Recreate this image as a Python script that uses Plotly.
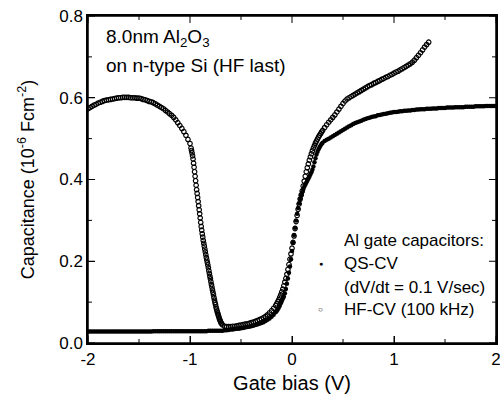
import numpy as np
import plotly.graph_objects as go

# ---------------- data ----------------
# HF-CV (100 kHz), open circles; bias grid segments (start, stop) with values
hf_seg1_range = (-2.00, -1.00)   # step 0.02
hf_seg1 = [0.573, 0.576, 0.579, 0.582, 0.584, 0.587, 0.589, 0.591, 0.593, 0.594,
           0.595, 0.596, 0.597, 0.598, 0.599, 0.600, 0.600, 0.601, 0.601, 0.601,
           0.601, 0.600, 0.600, 0.600, 0.599, 0.599, 0.598, 0.596, 0.595, 0.593,
           0.591, 0.590, 0.588, 0.585, 0.582, 0.579, 0.576, 0.573, 0.569, 0.565,
           0.561, 0.557, 0.552, 0.546, 0.539, 0.532, 0.525, 0.517, 0.508, 0.498,
           0.488]
hf_seg2_range = (-0.990, -0.690)  # step 0.005
hf_seg2 = [0.477, 0.471, 0.465, 0.458, 0.450, 0.440, 0.430, 0.419, 0.408, 0.397,
           0.386, 0.375, 0.366, 0.356, 0.346, 0.336, 0.326, 0.316, 0.306, 0.295,
           0.285, 0.276, 0.267, 0.259, 0.251, 0.244, 0.237, 0.230, 0.223, 0.216,
           0.209, 0.203, 0.197, 0.191, 0.184, 0.177, 0.170, 0.163, 0.157, 0.150,
           0.143, 0.137, 0.130, 0.124, 0.118, 0.111, 0.105, 0.099, 0.094, 0.088,
           0.083, 0.078, 0.074, 0.070, 0.066, 0.062, 0.058, 0.055, 0.052, 0.049,
           0.047]
hf_seg3_range = (-0.68, -0.16)   # step 0.02
hf_seg3 = [0.044, 0.041, 0.040, 0.040, 0.040, 0.041, 0.041, 0.042, 0.043, 0.044,
           0.045, 0.046, 0.047, 0.048, 0.050, 0.051, 0.053, 0.055, 0.057, 0.059,
           0.062, 0.065, 0.069, 0.074, 0.079, 0.085, 0.092]
hf_seg4_range = (-0.15, 0.30)    # step 0.01
hf_seg4 = [0.096, 0.101, 0.106, 0.112, 0.118, 0.125, 0.132, 0.140, 0.149, 0.158,
           0.168, 0.180, 0.192, 0.205, 0.218, 0.232, 0.246, 0.262, 0.280, 0.297,
           0.312, 0.327, 0.340, 0.352, 0.362, 0.372, 0.384, 0.396, 0.408, 0.419,
           0.429, 0.438, 0.447, 0.455, 0.463, 0.470, 0.477, 0.483, 0.489, 0.494,
           0.499, 0.504, 0.508, 0.512, 0.516, 0.520]
hf_seg5_range = (0.32, 1.34)     # step 0.02
hf_seg5 = [0.527, 0.534, 0.540, 0.546, 0.552, 0.558, 0.565, 0.572, 0.579, 0.586,
           0.592, 0.597, 0.600, 0.603, 0.606, 0.609, 0.612, 0.615, 0.618, 0.621,
           0.624, 0.627, 0.630, 0.632, 0.635, 0.637, 0.640, 0.642, 0.645, 0.647,
           0.650, 0.652, 0.655, 0.657, 0.660, 0.663, 0.665, 0.668, 0.671, 0.674,
           0.677, 0.680, 0.683, 0.687, 0.692, 0.698, 0.704, 0.710, 0.717, 0.724,
           0.730, 0.736]

# QS-CV (dV/dt = 0.1 V/sec), filled dots
qs_seg1_range = (-2.00, -0.70)   # step 0.02
qs_seg1 = [0.028, 0.028, 0.028, 0.028, 0.028, 0.028, 0.028, 0.028, 0.028, 0.028,
           0.028, 0.028, 0.028, 0.028, 0.028, 0.028, 0.028, 0.028, 0.028, 0.028,
           0.028, 0.028, 0.028, 0.028, 0.028, 0.028, 0.028, 0.028, 0.028, 0.028,
           0.028, 0.028, 0.029, 0.029, 0.029, 0.029, 0.029, 0.029, 0.029, 0.029,
           0.029, 0.029, 0.029, 0.029, 0.029, 0.029, 0.029, 0.029, 0.029, 0.029,
           0.029, 0.029, 0.029, 0.029, 0.029, 0.029, 0.029, 0.029, 0.029, 0.030,
           0.030, 0.030, 0.030, 0.030, 0.030, 0.030]
qs_seg2_range = (-0.68, -0.16)   # step 0.02
qs_seg2 = [0.030, 0.031, 0.031, 0.032, 0.033, 0.033, 0.034, 0.035, 0.035, 0.036,
           0.037, 0.038, 0.039, 0.040, 0.041, 0.042, 0.044, 0.045, 0.047, 0.049,
           0.051, 0.054, 0.057, 0.060, 0.064, 0.069, 0.075]
qs_seg3_range = (-0.15, 0.30)    # step 0.01
qs_seg3 = [0.078, 0.082, 0.086, 0.091, 0.097, 0.103, 0.108, 0.113, 0.122, 0.132,
           0.145, 0.158, 0.172, 0.187, 0.205, 0.225, 0.245, 0.264, 0.282, 0.300,
           0.316, 0.330, 0.342, 0.352, 0.361, 0.369, 0.376, 0.382, 0.387, 0.392,
           0.397, 0.402, 0.407, 0.412, 0.418, 0.424, 0.432, 0.442, 0.452, 0.461,
           0.468, 0.474, 0.479, 0.483, 0.487, 0.490]
qs_seg4_range = (0.32, 2.00)     # step 0.02
qs_seg4 = [0.494, 0.497, 0.500, 0.503, 0.506, 0.509, 0.512, 0.515, 0.518, 0.521,
           0.524, 0.527, 0.530, 0.533, 0.536, 0.538, 0.540, 0.542, 0.544, 0.546,
           0.548, 0.550, 0.551, 0.553, 0.554, 0.555, 0.557, 0.558, 0.559, 0.560,
           0.561, 0.562, 0.563, 0.564, 0.565, 0.565, 0.566, 0.567, 0.567, 0.568,
           0.568, 0.569, 0.569, 0.570, 0.570, 0.571, 0.571, 0.572, 0.572, 0.572,
           0.573, 0.573, 0.573, 0.574, 0.574, 0.574, 0.575, 0.575, 0.575, 0.575,
           0.576, 0.576, 0.576, 0.576, 0.577, 0.577, 0.577, 0.577, 0.577, 0.578,
           0.578, 0.578, 0.578, 0.578, 0.579, 0.579, 0.579, 0.579, 0.579, 0.580,
           0.580, 0.580, 0.580, 0.580, 0.580]

x_tick_vals = [-2, -1, 0, 1, 2]
x_tick_text = ["-2", "-1", "0", "1", "2"]
x_minor_vals = [-1.5, -0.5, 0.5, 1.5]
y_tick_vals = [0.0, 0.2, 0.4, 0.6, 0.8]
y_tick_text = ["0.0", "0.2", "0.4", "0.6", "0.8"]
y_minor_vals = [0.1, 0.3, 0.5, 0.7]


def assemble(segments):
    xs, ys = [], []
    for (a, b), vals in segments:
        xs.extend(np.linspace(a, b, len(vals)).tolist())
        ys.extend(vals)
    return xs, ys


hf_x, hf_y = assemble([(hf_seg1_range, hf_seg1), (hf_seg2_range, hf_seg2),
                       (hf_seg3_range, hf_seg3), (hf_seg4_range, hf_seg4),
                       (hf_seg5_range, hf_seg5)])
qs_x, qs_y = assemble([(qs_seg1_range, qs_seg1), (qs_seg2_range, qs_seg2),
                       (qs_seg3_range, qs_seg3), (qs_seg4_range, qs_seg4)])

FONT = "Liberation Sans"
X_RANGE = [-2, 2]
Y_RANGE = [0, 0.8]
W, H = 500, 399
M = dict(l=88, r=4, t=16, b=56)
PLOT_W = W - M["l"] - M["r"]
PLOT_H = H - M["t"] - M["b"]
px_x = (X_RANGE[1] - X_RANGE[0]) / PLOT_W   # data units per pixel
px_y = (Y_RANGE[1] - Y_RANGE[0]) / PLOT_H

# inward ticks on all four sides, built from the tick values
tick_x, tick_y = [], []
for vals, ln in ((x_tick_vals, 7), (x_minor_vals, 4)):
    for v in vals:
        tick_x += [v, v, None, v, v, None]
        tick_y += [Y_RANGE[0], Y_RANGE[0] + ln * px_y, None,
                   Y_RANGE[1], Y_RANGE[1] - ln * px_y, None]
for vals, ln in ((y_tick_vals, 7), (y_minor_vals, 4)):
    for v in vals:
        tick_x += [X_RANGE[0], X_RANGE[0] + ln * px_x, None,
                   X_RANGE[1], X_RANGE[1] - ln * px_x, None]
        tick_y += [v, v, None, v, v, None]
frame_x = [X_RANGE[0], X_RANGE[1], X_RANGE[1], X_RANGE[0], X_RANGE[0]]
frame_y = [Y_RANGE[0], Y_RANGE[0], Y_RANGE[1], Y_RANGE[1], Y_RANGE[0]]

fig = go.Figure()
fig.add_trace(go.Scatter(x=qs_x, y=qs_y, mode="markers", name="QS-CV",
                         marker=dict(symbol="circle", size=4.5, color="black")))
fig.add_trace(go.Scatter(x=hf_x, y=hf_y, mode="markers", name="HF-CV",
                         marker=dict(symbol="circle-open", size=4.5, color="black",
                                     line=dict(width=1.2, color="black"))))
fig.add_trace(go.Scatter(x=tick_x, y=tick_y, mode="lines", line=dict(color="black", width=1),
                         cliponaxis=False))
fig.add_trace(go.Scatter(x=frame_x, y=frame_y, mode="lines", line=dict(color="black", width=1.5),
                         cliponaxis=False))

fig.update_xaxes(range=X_RANGE, tickmode="array", tickvals=x_tick_vals, ticktext=x_tick_text,
                 showline=True, linecolor="black", linewidth=1.5, mirror=True,
                 ticks="inside", ticklen=7, tickcolor="black",
                 showgrid=False, zeroline=False, automargin=False,
                 ticklabeloverflow="allow",
                 tickfont=dict(family=FONT, size=17, color="black"),
                 title=dict(text="Gate bias (V)",
                            font=dict(family=FONT, size=20, color="black"), standoff=8))
fig.update_yaxes(range=Y_RANGE, tickmode="array", tickvals=y_tick_vals, ticktext=y_tick_text,
                 showline=True, linecolor="black", linewidth=1.5, mirror=True,
                 ticks="inside", ticklen=7, tickcolor="black",
                 showgrid=False, zeroline=False, automargin=False,
                 tickfont=dict(family=FONT, size=17, color="black"),
                 title=dict(text="Capacitance (10<sup>-6</sup> Fcm<sup>-2</sup>)",
                            font=dict(family=FONT, size=18, color="black"), standoff=20))

annotations = [
    dict(text="8.0nm Al<sub>2</sub>O<sub>3</sub>", x=0.04, y=0.932, size=19),
    dict(text="on n-type Si (HF last)", x=0.04, y=0.848, size=19),
    dict(text="Al gate capacitors:", x=0.622, y=0.312, size=17),
    dict(text="QS-CV", x=0.622, y=0.243, size=17),
    dict(text="(dV/dt = 0.1 V/sec)", x=0.622, y=0.171, size=17),
    dict(text="HF-CV (100 kHz)", x=0.622, y=0.101, size=17),
    dict(text="\u25CF", x=0.571, y=0.243, size=7),
    dict(text="\u25CB", x=0.571, y=0.101, size=8),
]
for a in annotations:
    fig.add_annotation(text=a["text"], x=a["x"], y=a["y"], xref="paper", yref="paper",
                       xanchor="left" if a["size"] > 10 else "center", yanchor="middle",
                       showarrow=False,
                       font=dict(family=FONT, size=a["size"], color="black"))

fig.update_layout(width=W, height=H, plot_bgcolor="white", paper_bgcolor="white",
                  margin=M, showlegend=False)

fig.write_html("out.html", config={"displayModeBar": False},
               post_script="document.body.style.margin='0';")
